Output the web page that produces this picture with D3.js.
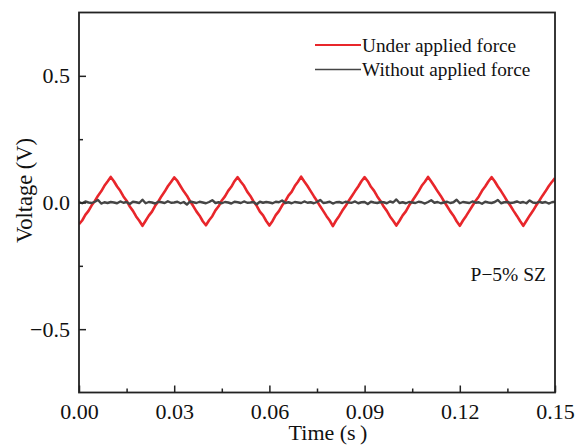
<!DOCTYPE html>
<html>
<head>
<meta charset="utf-8">
<script src="https://cdn.jsdelivr.net/npm/d3@7"></script>
<style>
  html, body { margin: 0; padding: 0; background: #fff; }
  svg { display: block; }
  text { font-family: "Liberation Serif", "Times New Roman", serif; fill: #111; }
</style>
</head>
<body>
<svg id="chart" width="575" height="446"></svg>
<script>
// ---- data ----
const timeStart = 0.0;      // s
const timeStep = 0.001;     // s, sampling of the series below
const underForce = [
  -0.086,-0.071,-0.049,-0.033,-0.011,0.006,0.027,0.044,0.066,0.083,
  0.101,0.084,0.063,0.046,0.024,0.007,-0.016,-0.033,-0.055,-0.072,
  -0.092,-0.072,-0.052,-0.036,-0.013,0.004,0.025,0.043,0.064,0.081,
  0.099,0.085,0.064,0.044,0.027,0.005,-0.014,-0.035,-0.052,-0.074,
  -0.090,-0.070,-0.054,-0.031,-0.015,0.008,0.024,0.046,0.062,0.084,
  0.100,0.082,0.066,0.043,0.026,0.004,-0.013,-0.036,-0.051,-0.073,
  -0.091,-0.073,-0.050,-0.034,-0.012,0.005,0.027,0.042,0.065,0.082,
  0.102,0.083,0.065,0.045,0.025,0.006,-0.015,-0.034,-0.054,-0.071,
  -0.093,-0.071,-0.053,-0.032,-0.014,0.007,0.026,0.045,0.063,0.084,
  0.100,0.084,0.062,0.046,0.024,0.006,-0.016,-0.033,-0.055,-0.072,
  -0.091,-0.072,-0.051,-0.035,-0.012,0.006,0.025,0.044,0.066,0.082,
  0.101,0.083,0.064,0.044,0.026,0.005,-0.015,-0.035,-0.052,-0.074,
  -0.092,-0.071,-0.053,-0.033,-0.013,0.007,0.024,0.046,0.063,0.083,
  0.100,0.084,0.063,0.045,0.025,0.004,-0.014,-0.034,-0.053,-0.073,
  -0.092,-0.072,-0.052,-0.034,-0.013,0.006,0.026,0.044,0.064,0.081,
  0.096
];
const withoutForce = [
  0.002,-0.003,0.004,0.000,-0.002,0.003,0.010,-0.004,0.001,-0.002,
  0.002,0.000,-0.003,0.004,-0.001,0.002,-0.006,0.003,0.001,-0.002,
  0.011,-0.003,0.002,0.000,-0.004,0.003,0.001,-0.002,0.005,-0.001,
  0.000,0.003,-0.003,0.002,-0.008,0.004,0.001,-0.002,0.003,0.000,
  -0.003,0.002,0.009,-0.002,0.001,-0.003,0.002,0.000,-0.004,0.003,
  0.001,-0.002,0.004,-0.001,0.000,0.002,-0.007,0.003,-0.001,0.002,
  0.000,-0.003,0.003,0.001,0.008,-0.002,0.001,-0.003,0.002,0.000,
  -0.002,0.004,-0.001,0.001,-0.003,0.002,0.010,-0.002,0.000,0.003,
  -0.004,0.001,0.002,-0.002,0.003,0.000,-0.001,0.004,-0.003,0.001,
  0.002,-0.006,0.003,0.000,-0.002,0.002,0.001,-0.003,0.004,0.000,
  0.012,-0.002,0.001,-0.003,0.002,0.000,-0.002,0.003,0.001,-0.004,
  0.002,0.009,-0.001,0.002,-0.003,0.000,0.003,-0.002,0.001,0.011,
  -0.003,0.002,0.000,-0.002,0.004,-0.001,0.001,-0.005,0.003,0.000,
  -0.002,0.002,0.010,-0.003,0.001,0.002,-0.002,0.000,0.004,-0.001,
  0.002,-0.003,0.008,0.000,-0.002,0.003,-0.001,0.002,-0.004,0.001,
  0.003
];
const xTicks = [0.00, 0.03, 0.06, 0.09, 0.12, 0.15];
const xMinorTicks = [0.015, 0.045, 0.075, 0.105, 0.135];
const yTicks = [-0.5, 0.0, 0.5];
const yMinorTicks = [-0.25, 0.25];
const seriesNames = ["Under applied force", "Without applied force"];
const seriesColors = ["#e8262b", "#454545"];
const xLabel = "Time (s\u2009)";
const yLabel = "Voltage (V)";
const annotation = "P\u22125% SZ";

// ---- layout ----
const svg = d3.select("#chart");
const L = 79, R = 555, T = 12.5, B = 392.5;

const x = d3.scaleLinear().domain([0, 0.15]).range([L, R]);
const y = d3.scaleLinear().domain([-0.75, 0.75]).range([B, T]);

const toPts = arr => arr.map((v, i) => [timeStart + i * timeStep, v]);
const line = d3.line().x(d => x(d[0])).y(d => y(d[1]));

svg.append("defs").append("clipPath").attr("id", "clip")
  .append("rect").attr("x", L).attr("y", T).attr("width", R - L).attr("height", B - T);

const plot = svg.append("g").attr("clip-path", "url(#clip)");
plot.append("path").datum(toPts(underForce))
  .attr("d", line).attr("fill", "none")
  .attr("stroke", seriesColors[0]).attr("stroke-width", 2.6)
  .attr("stroke-linejoin", "round");
plot.append("path").datum(toPts(withoutForce))
  .attr("d", line).attr("fill", "none")
  .attr("stroke", seriesColors[1]).attr("stroke-width", 2.4)
  .attr("stroke-linejoin", "round");

// axes (ticks inward)
const xAxis = d3.axisBottom(x).tickValues(xTicks).tickFormat(d3.format(".2f"))
  .tickSizeInner(-7).tickSizeOuter(0).tickPadding(11);
const gx = svg.append("g").attr("transform", `translate(0,${B})`).call(xAxis);
gx.select(".domain").remove();
gx.selectAll("line").attr("stroke", "#222").attr("stroke-width", 1.5);
gx.selectAll("text").attr("font-size", 22).attr("fill", "#111")
  .attr("font-family", "Liberation Serif, Times New Roman, serif");

const xMinor = d3.axisBottom(x).tickValues(xMinorTicks).tickFormat("")
  .tickSizeInner(-4).tickSizeOuter(0);
const gxm = svg.append("g").attr("transform", `translate(0,${B})`).call(xMinor);
gxm.select(".domain").remove();
gxm.selectAll("line").attr("stroke", "#222").attr("stroke-width", 1.5);

const yAxis = d3.axisLeft(y).tickValues(yTicks)
  .tickFormat(d => d === 0 ? "0.0" : (d < 0 ? "\u2212" + Math.abs(d).toFixed(1) : d.toFixed(1)))
  .tickSizeInner(-7).tickSizeOuter(0).tickPadding(9);
const gy = svg.append("g").attr("transform", `translate(${L},0)`).call(yAxis);
gy.select(".domain").remove();
gy.selectAll("line").attr("stroke", "#222").attr("stroke-width", 1.5);
gy.selectAll("text").attr("font-size", 22).attr("fill", "#111")
  .attr("font-family", "Liberation Serif, Times New Roman, serif");

const yMinor = d3.axisLeft(y).tickValues(yMinorTicks).tickFormat("")
  .tickSizeInner(-4).tickSizeOuter(0);
const gym = svg.append("g").attr("transform", `translate(${L},0)`).call(yMinor);
gym.select(".domain").remove();
gym.selectAll("line").attr("stroke", "#222").attr("stroke-width", 1.5);

// frame
svg.append("rect").attr("x", L).attr("y", T).attr("width", R - L).attr("height", B - T)
  .attr("fill", "none").attr("stroke", "#222").attr("stroke-width", 1.8);

// axis titles
svg.append("text").attr("x", (L + R) / 2 + 11).attr("y", 440)
  .attr("text-anchor", "middle").attr("font-size", 22).text(xLabel);
svg.append("text").attr("transform", `translate(32,${y(0) - 12}) rotate(-90)`)
  .attr("text-anchor", "middle").attr("font-size", 22.5).text(yLabel);

// legend
const legY = [45, 69.5];
seriesNames.forEach((name, i) => {
  svg.append("line").attr("x1", 315).attr("x2", 361)
    .attr("y1", legY[i]).attr("y2", legY[i])
    .attr("stroke", seriesColors[i]).attr("stroke-width", i === 0 ? 2 : 1.6);
  svg.append("text").attr("x", 362).attr("y", legY[i] + 6.5)
    .attr("font-size", 19.3).text(name);
});

// annotation
svg.append("text").attr("x", 546).attr("y", 281)
  .attr("text-anchor", "end").attr("font-size", 19.5).text(annotation);
</script>
</body>
</html>
